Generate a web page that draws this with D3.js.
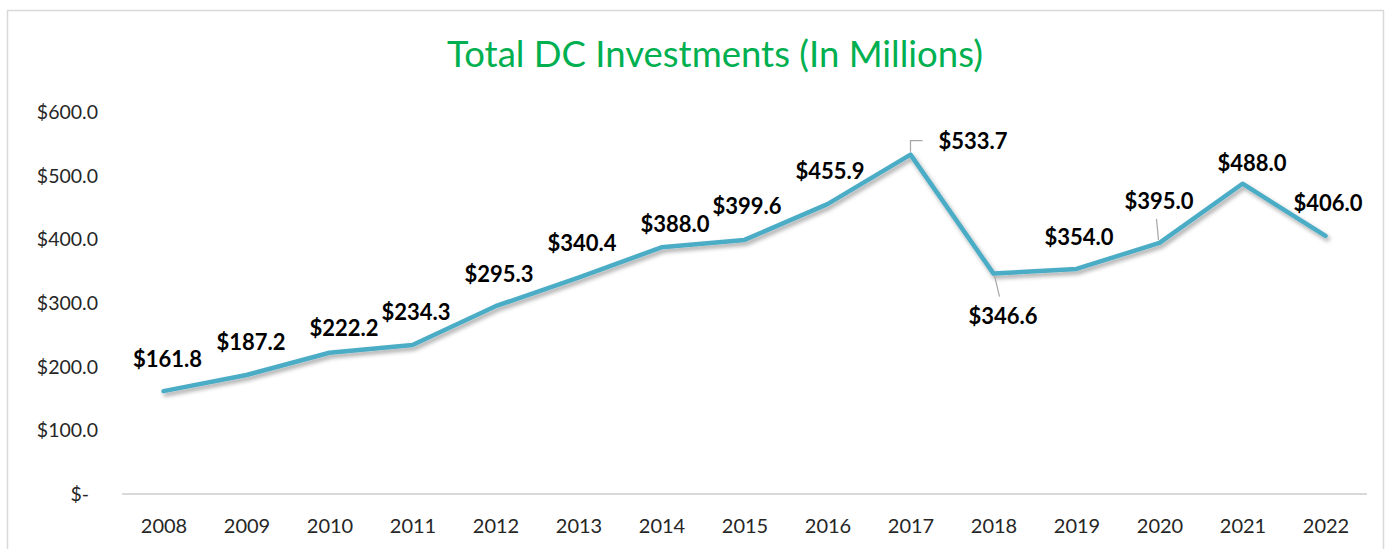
<!DOCTYPE html>
<html>
<head>
<meta charset="utf-8">
<script src="https://cdn.jsdelivr.net/npm/d3@7"></script>
<style>
  html, body { margin: 0; padding: 0; background: #fff; }
  svg { display: block; }
</style>
</head>
<body>
<svg id="chart" width="1390" height="549"></svg>
<script>
// ---- data ----
const years = ["2008","2009","2010","2011","2012","2013","2014","2015","2016","2017","2018","2019","2020","2021","2022"];
const investments = [161.8, 187.2, 222.2, 234.3, 295.3, 340.4, 388.0, 399.6, 455.9, 533.7, 346.6, 354.0, 395.0, 488.0, 406.0];
const yTicks = [0, 100, 200, 300, 400, 500, 600];
const titleText = "Total DC Investments (In Millions)";

// ---- layout (label placement relative to each point) ----
const labelOffsets = [
  [4, -32], [4.5, -33], [14.5, -24], [3.5, -33], [3.5, -32], [3.5, -34], [13.5, -23],
  [2.5, -34], [2.5, -33], [62.5, -13], [9.5, 43], [2.5, -32], [-0.5, -42], [9.5, -20], [2.5, -33]
];
// leader lines (relative to point), only where labels were moved away
const leaders = {
  "2017": [[0, -3], [0, -14], [12, -14]],
  "2018": [[1, 2], [6, 23]],
  "2020": [[-1, -3], [-3, -24]]
};

const svg = d3.select("#chart");

// frame
svg.append("rect")
  .attr("x", 7.5).attr("y", 10.5).attr("width", 1376).attr("height", 560)
  .attr("fill", "#fff").attr("stroke", "#d9d9d9").attr("stroke-width", 1.5);

// title
svg.append("text")
  .attr("x", 715).attr("y", 67)
  .attr("text-anchor", "middle")
  .attr("font-family", "Lato, 'Open Sans', sans-serif")
  .attr("font-size", 36.5)
  .attr("fill", "#00B050")
  .text(titleText);

const x = d3.scalePoint().domain(years).range([122, 1367]).padding(0.5);
const y = d3.scaleLinear().domain([0, 600]).range([494, 112.5]);

// y axis (labels only)
const yAxis = d3.axisLeft(y).tickValues(yTicks).tickSize(0).tickPadding(0)
  .tickFormat(d => d === 0 ? "$-" : "$" + d3.format(".1f")(d));
const gy = svg.append("g").attr("transform", "translate(98,0)").call(yAxis);
gy.select(".domain").remove();
gy.selectAll("text")
  .attr("font-family", "Lato, sans-serif").attr("font-size", 19.5).attr("fill", "#262626")
  .attr("dx", d => d === 0 ? -9 : 0);

// x axis
const xAxis = d3.axisBottom(x).tickSize(0).tickPadding(0);
const gx = svg.append("g").attr("transform", "translate(0,494)").call(xAxis);
gx.select(".domain").attr("stroke", "#d9d9d9").attr("stroke-width", 2)
  .attr("d", "M122,0H1367");
gx.selectAll("text")
  .attr("font-family", "Lato, sans-serif").attr("font-size", 20).attr("fill", "#262626")
  .attr("y", 32).attr("dy", "0.35em");

// shadow filter
const defs = svg.append("defs");
const f = defs.append("filter").attr("id", "shadow").attr("x", "-10%").attr("y", "-10%").attr("width", "120%").attr("height", "130%");
f.append("feDropShadow").attr("dx", 2).attr("dy", 3).attr("stdDeviation", 2)
  .attr("flood-color", "#000").attr("flood-opacity", 0.35);

const data = years.map((yr, i) => ({ yr, v: investments[i], off: labelOffsets[i] }));

// line
const line = d3.line().x(d => x(d.yr)).y(d => y(d.v));
svg.append("path")
  .datum(data)
  .attr("d", line)
  .attr("fill", "none")
  .attr("stroke", "#4BACC6")
  .attr("stroke-width", 4.5)
  .attr("stroke-linejoin", "round")
  .attr("stroke-linecap", "round")
  .attr("filter", "url(#shadow)");

// leader lines
Object.keys(leaders).forEach(yr => {
  const d = data.find(e => e.yr === yr);
  const px = x(d.yr), py = y(d.v);
  svg.append("path")
    .attr("d", d3.line()(leaders[yr].map(p => [px + p[0], py + p[1]])))
    .attr("fill", "none").attr("stroke", "#a6a6a6").attr("stroke-width", 1.2);
});

// data labels
svg.append("g").selectAll("text")
  .data(data)
  .join("text")
  .attr("x", d => x(d.yr) + d.off[0])
  .attr("y", d => y(d.v) + d.off[1])
  .attr("dy", "0.35em")
  .attr("text-anchor", "middle")
  .attr("font-family", "Lato, sans-serif")
  .attr("font-weight", "bold")
  .attr("font-size", 22)
  .attr("fill", "#000")
  .text(d => "$" + d3.format(".1f")(d.v));
</script>
</body>
</html>
